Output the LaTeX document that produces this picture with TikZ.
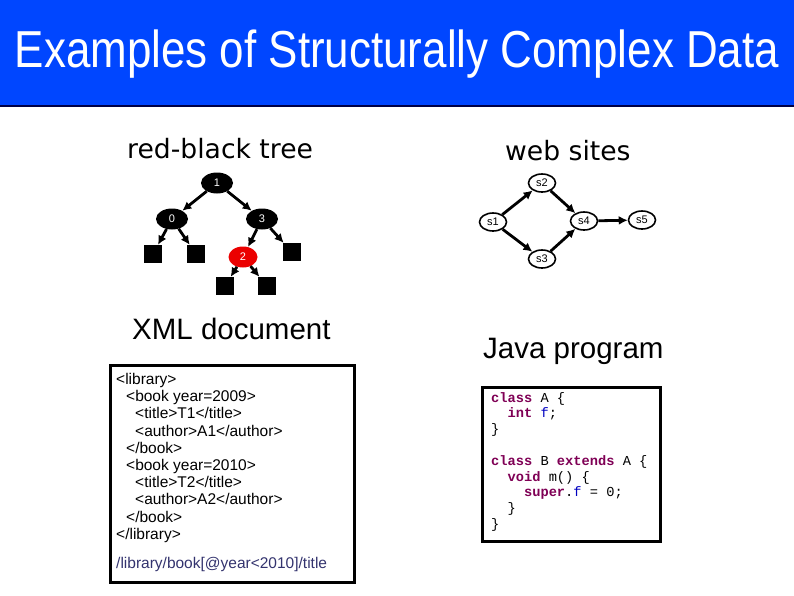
\documentclass[tikz,border=0pt]{standalone}
\usepackage{fontspec}
\setmainfont{Liberation Sans}
\newfontfamily\headfont{DejaVu Sans}
\newfontfamily\codefont{Liberation Mono}
\usetikzlibrary{arrows.meta,shapes.geometric}
\definecolor{TitleClr}{RGB}{0,70,255}
\definecolor{RuleClr}{RGB}{0,0,70}
\definecolor{KeyClr}{RGB}{127,0,85}
\definecolor{FieldClr}{RGB}{0,0,192}
\definecolor{PathClr}{RGB}{51,51,110}
\definecolor{RedClr}{RGB}{235,0,0}
\newcommand{\kw}[1]{\textcolor{KeyClr}{\textbf{#1}}}
\newcommand{\fld}[1]{\textcolor{FieldClr}{#1}}

\begin{document}
\begin{tikzpicture}[x=1pt,y=-1pt,
  rbnode/.style={ellipse,fill=black,text=white,inner sep=0pt,minimum width=32pt,minimum height=21pt,font=\fontsize{11}{11}\selectfont},
  rbred/.style={rbnode,fill=RedClr,minimum width=29pt},
  leaf/.style={rectangle,fill=black,minimum size=18pt,inner sep=0pt},
  site/.style={ellipse,draw,line width=1.6pt,fill=white,inner sep=0pt,minimum width=27pt,minimum height=18pt,font=\fontsize{11}{11}\selectfont},
  link/.style={line width=2.8pt,-{Latex[length=9pt,width=9pt]}},
  head/.style={anchor=base west,inner sep=0pt},
  frame/.style={line width=3pt}]
\useasboundingbox (0,0) rectangle (794,595);

% title bar
\fill[TitleClr] (0,0) rectangle (794,105);
\draw[RuleClr,line width=2pt] (0,106) -- (794,106);
\node[text=white,font=\fontsize{52}{52}\selectfont,xscale=0.845] (title) at (397,54) {Examples of Structurally Complex Data};

% headings
\node[head,font=\headfont\fontsize{26.6}{26.6}\selectfont] (rbhead) at (127,158) {red-black tree};
\node[head,font=\headfont\fontsize{26.6}{26.6}\selectfont] (webhead) at (505,160) {web sites};
\node[head,font=\fontsize{29.5}{29.5}\selectfont] (xmlhead) at (132,339) {XML document};
\node[head,font=\fontsize{29.5}{29.5}\selectfont] (javahead) at (483,358) {Java program};

% red-black tree
\node[rbnode] (n1) at (217,183) {1};
\node[rbnode] (n0) at (172,219) {0};
\node[rbnode] (n3) at (262,219) {3};
\node[rbred] (n2) at (243,257) {2};
\node[leaf] (l0a) at (153,254) {};
\node[leaf] (l0b) at (196,254) {};
\node[leaf] (l3) at (292,252) {};
\node[leaf] (l2a) at (225,286) {};
\node[leaf] (l2b) at (267,286) {};
\draw[link] (n1) -- (n0);
\draw[link] (n1) -- (n3);
\draw[link] (n0) -- (l0a);
\draw[link] (n0) -- (l0b);
\draw[link] (n3) -- (n2);
\draw[link] (n3) -- (l3);
\draw[link] (n2) -- (l2a);
\draw[link] (n2) -- (l2b);

% web sites
\node[site] (s1) at (493,222) {s1};
\node[site] (s2) at (542,183) {s2};
\node[site] (s3) at (542,259) {s3};
\node[site] (s4) at (584,221) {s4};
\node[site] (s5) at (642,220) {s5};
\draw[link] (s1) -- (s2);
\draw[link] (s1) -- (s3);
\draw[link] (s2) -- (s4);
\draw[link] (s3) -- (s4);
\draw[link] (s4) -- (s5);

% XML document
\draw[frame] (110,365) rectangle (354,582);
\node[anchor=north west,inner sep=0pt,align=left,font=\fontsize{15.5}{17.2}\selectfont] (xml) at (116,373)
  {<library>\\
   \hspace*{10pt}<book year=2009>\\
   \hspace*{19pt}<title>T1</title>\\
   \hspace*{19pt}<author>A1</author>\\
   \hspace*{10pt}</book>\\
   \hspace*{10pt}<book year=2010>\\
   \hspace*{19pt}<title>T2</title>\\
   \hspace*{19pt}<author>A2</author>\\
   \hspace*{10pt}</book>\\
   </library>};
\node[head,text=PathClr,font=\fontsize{15.5}{15.5}\selectfont] (xpath) at (116,568) {/library/book[@year<2010]/title};

% Java program
\draw[frame] (482,387) rectangle (660,541);
\node[anchor=north west,inner sep=0pt,align=left,font=\codefont\fontsize{13.7}{15.8}\selectfont] (java) at (491,392)
  {\kw{class} A \{\\
   \ \ \kw{int} \fld{f};\\
   \}\\[15.8pt]
   \kw{class} B \kw{extends} A \{\\
   \ \ \kw{void} m() \{\\
   \ \ \ \ \kw{super}.\fld{f} = 0;\\
   \ \ \}\\
   \}};
\end{tikzpicture}
\end{document}
